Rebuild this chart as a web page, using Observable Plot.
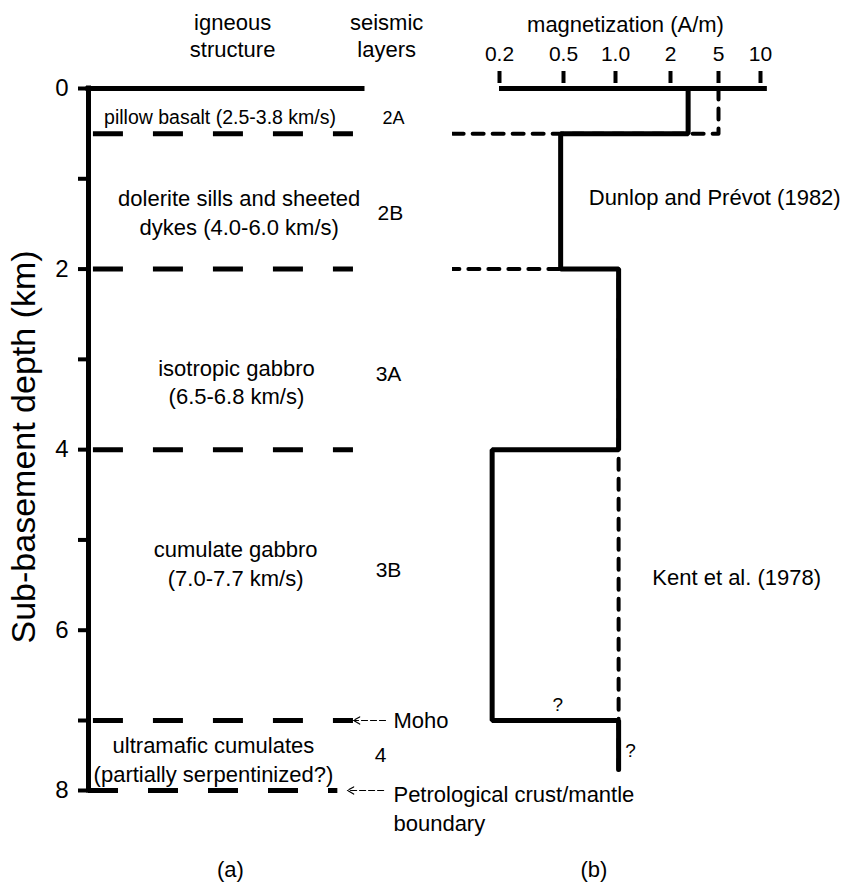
<!DOCTYPE html>
<html>
<head>
<meta charset="utf-8">
<script src="https://cdn.jsdelivr.net/npm/d3@7"></script>
<script src="https://cdn.jsdelivr.net/npm/@observablehq/plot@0.6"></script>
<style>
html, body { margin: 0; padding: 0; background: #fff; }
#chart { position: relative; width: 841px; height: 882px; }
#chart svg { position: absolute; left: 0; top: 0; }
</style>
</head>
<body>
<div id="chart"></div>
<script>
// ---------- data ----------
const depthTicks = [0, 2, 4, 6, 8];
const depthMinorTicks = [1, 3, 5, 7];
const boundaryDepths = [0.5, 2, 4, 7];   // layer boundaries (dashed)
const mohoDepth = 7;
const baseDepth = 8;                      // petrological crust/mantle boundary

const structureLabels = [
  "pillow basalt (2.5-3.8 km/s)",
  "dolerite sills and sheeted\ndykes (4.0-6.0 km/s)",
  "isotropic gabbro\n(6.5-6.8 km/s)",
  "cumulate gabbro\n(7.0-7.7 km/s)",
  "ultramafic cumulates\n(partially serpentinized?)"
];
const structureDepths = [0.30, 1.36, 3.24, 5.25, 7.54];

const seismicLabels = ["2A", "2B", "3A", "3B", "4"];
const seismicDepths = [0.33, 1.38, 3.16, 5.34, 7.5];

const magTicks = [0.2, 0.5, 1, 2, 5, 10];
const magTickLabels = ["0.2", "0.5", "1.0", "2", "5", "10"];

// Dunlop and Prévot (1982): layer tops, magnetization (A/m)
const dpTops = [0, 0.5, 2, 4, 7];
const dpBase = 7.7;
const dpMag = [2.8, 0.48, 1.04, 0.18, 1.04];

// Kent et al. (1978)
const kentTops = [0, 0.5, 2];
const kentBase = 7.7;
const kentMag = [5, 0.09, 1.04];

// ---------- build ----------
const font = "'Liberation Sans', Arial, Helvetica, sans-serif";
const yScale = () => ({type: "linear", domain: [0, 7, 8], range: [88, 720, 790]});

const structure = structureLabels.map((t, i) => ({text: t, depth: structureDepths[i]}));
const seismic = seismicLabels.map((t, i) => ({text: t, depth: seismicDepths[i]}));
const structX = [0.48, 0.55, 0.54, 0.537, 0.456];
const seisX = [1.113, 1.102, 1.095, 1.095, 1.066];

const left = Plot.plot({
  width: 841, height: 882,
  marginLeft: 88, marginTop: 88, marginBottom: 92, marginRight: 0,
  style: {fontFamily: font, background: "white", overflow: "visible", color: "black"},
  x: {type: "linear", domain: [0, 1], range: [88, 362], axis: null},
  y: yScale(),
  marks: [
    Plot.axisY({ticks: depthTicks, tickSize: 10, tickPadding: 10, fontSize: 24, strokeWidth: 4, label: null}),
    Plot.axisY({ticks: depthMinorTicks, tickSize: 10, tickFormat: () => "", strokeWidth: 4, label: null}),
    Plot.ruleX([0], {y1: 0, y2: baseDepth, strokeWidth: 5, strokeLinecap: "square"}),
    Plot.ruleY([0], {x1: 0, x2: 1, strokeWidth: 5, strokeLinecap: "square"}),
    Plot.ruleY(boundaryDepths, {x1: 0.018, x2: 0.967, strokeWidth: 5, strokeDasharray: "30,30"}),
    Plot.ruleY([baseDepth], {x1: 0, x2: 0.91, strokeWidth: 5, strokeDasharray: "30,30"}),
    Plot.text(structure, {x: (d, i) => structX[i], y: "depth", text: "text",
      fontSize: (d, i) => i === 0 ? 19.5 : 22, lineHeight: 1.3}),
    Plot.text(seismic, {x: (d, i) => seisX[i], y: "depth", text: "text",
      fontSize: (d, i) => i === 0 ? 18 : 21}),
    Plot.text(["igneous\nstructure"], {x: 0.526, y: -0.59, text: d => d, fontSize: 22, lineHeight: 1.2}),
    Plot.text(["seismic\nlayers"], {x: 1.088, y: -0.59, text: d => d, fontSize: 22, lineHeight: 1.2}),
    Plot.arrow([mohoDepth], {x1: 1.084, x2: 0.967, y1: d => d, y2: d => d, strokeWidth: 1.2, headLength: 9, strokeDasharray: "6,3"}),
    Plot.arrow([baseDepth], {x1: 1.077, x2: 0.945, y1: d => d, y2: d => d, strokeWidth: 1.2, headLength: 9, strokeDasharray: "6,3"}),
    Plot.text(["Moho"], {x: 1.113, y: mohoDepth, text: d => d, textAnchor: "start", fontSize: 22}),
    Plot.text(["Petrological crust/mantle\nboundary"], {x: 1.113, y: baseDepth, text: d => d, textAnchor: "start", fontSize: 22, lineHeight: 1.3, dy: 17}),
    Plot.text(["Sub-basement depth (km)"], {x: -0.234, y: 3.97, text: d => d, rotate: -90, fontSize: 34}),
    Plot.text(["(a)"], {x: 0.518, y: 9.14, text: d => d, fontSize: 22})
  ]
});

const dpPoints = dpTops.map((t, i) => ({depth: t, mag: dpMag[i]}))
  .concat([{depth: dpBase, mag: dpMag[dpMag.length - 1]}]);
const kentPoints = kentTops.map((t, i) => ({depth: t, mag: kentMag[i]}))
  .concat([{depth: kentBase, mag: kentMag[kentMag.length - 1]}]);

const right = Plot.plot({
  width: 841, height: 882,
  marginLeft: 452, marginRight: 0, marginTop: 82, marginBottom: 92,
  style: {fontFamily: font, background: "transparent", overflow: "visible", color: "black"},
  x: {type: "log", domain: magTicks, range: [499, 563, 615, 670, 718, 760]},
  y: {...yScale(), axis: null},
  marks: [
    Plot.axisX({anchor: "top", ticks: magTicks, tickFormat: d => magTickLabels[magTicks.indexOf(d)],
      tickSize: 12, tickPadding: 10, fontSize: 21, strokeWidth: 4, label: null}),
    Plot.ruleY([0], {x1: 0.2, x2: 11.2, strokeWidth: 5}),
    Plot.line(kentPoints, {x: "mag", y: "depth", curve: "step-before", strokeWidth: 4, strokeDasharray: "11,9", clip: true}),
    Plot.line(dpPoints, {x: "mag", y: "depth", curve: "step-before", strokeWidth: 5, strokeLinejoin: "miter"}),
    Plot.text(["magnetization (A/m)"], {x: 1.134, y: -0.70, text: d => d, fontSize: 22}),
    Plot.text(["Dunlop and Prévot (1982)"], {x: 0.7, y: 1.21, text: d => d, textAnchor: "start", fontSize: 22}),
    Plot.text(["Kent et al. (1978)"], {x: 1.59, y: 5.42, text: d => d, textAnchor: "start", fontSize: 22}),
    Plot.text(["?"], {x: 0.46, y: 6.83, text: d => d, fontSize: 19}),
    Plot.text(["?"], {x: 1.21, y: 7.43, text: d => d, fontSize: 19}),
    Plot.text(["(b)"], {x: 0.75, y: 9.14, text: d => d, fontSize: 22})
  ]
});

const chart = document.getElementById("chart");
chart.appendChild(left);
chart.appendChild(right);
</script>
</body>
</html>
